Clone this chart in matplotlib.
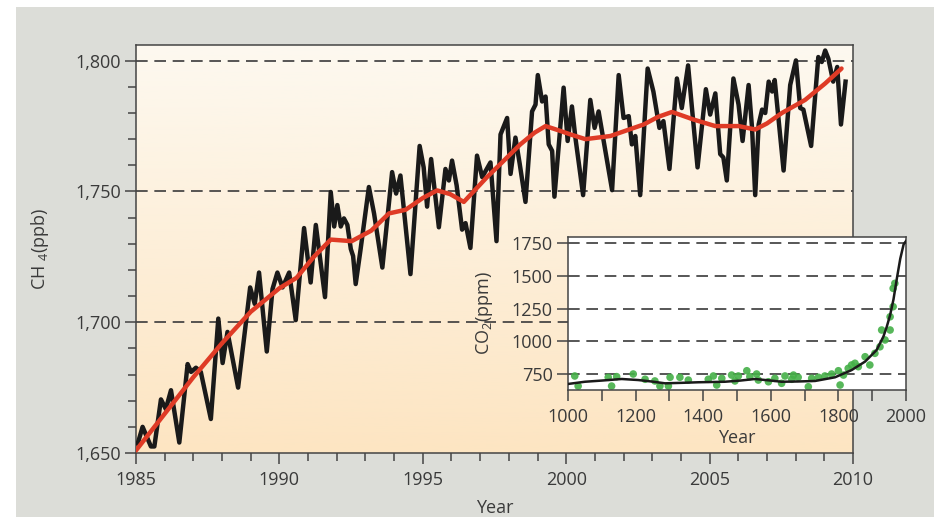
import matplotlib
matplotlib.use("Agg")
import matplotlib.pyplot as plt
from matplotlib.colors import LinearSegmentedColormap
from matplotlib.patches import Rectangle
from matplotlib.ticker import MultipleLocator, FuncFormatter
import numpy as np

plt.rcParams['font.family'] = ['Open Sans', 'DejaVu Sans']
plt.rcParams['mathtext.fontset'] = 'custom'
plt.rcParams['mathtext.rm'] = 'Open Sans'
plt.rcParams['mathtext.default'] = 'regular'

# --- Данные: метан (ppb), помесячный ряд ---
ch4_years = [
    1985.06, 1985.23, 1985.52, 1985.64, 1985.87, 1986.04, 1986.22, 1986.51, 1986.80, 1986.92,
    1987.09, 1987.26, 1987.61, 1987.87, 1988.02, 1988.19, 1988.56, 1988.98, 1989.14, 1989.29,
    1989.56, 1989.76, 1989.93, 1990.11, 1990.34, 1990.57, 1990.86, 1991.09, 1991.27, 1991.59,
    1991.79, 1991.91, 1992.02, 1992.14, 1992.25, 1992.37, 1992.49, 1992.57, 1992.66, 1992.83,
    1993.12, 1993.30, 1993.59, 1993.93, 1994.07, 1994.22, 1994.57, 1994.89, 1995.03, 1995.15,
    1995.29, 1995.56, 1995.79, 1995.91, 1996.02, 1996.18, 1996.37, 1996.49, 1996.66, 1996.89,
    1997.07, 1997.36, 1997.57, 1997.71, 1997.94, 1998.06, 1998.23, 1998.38, 1998.58, 1998.81,
    1998.93, 1999.01, 1999.16, 1999.28, 1999.39, 1999.51, 1999.59, 1999.91, 2000.05, 2000.20,
    2000.32, 2000.59, 2000.84, 2000.99, 2001.13, 2001.60, 2001.83, 2002.00, 2002.18, 2002.29,
    2002.41, 2002.58, 2002.84, 2003.04, 2003.25, 2003.39, 2003.60, 2003.86, 2004.03, 2004.25,
    2004.38, 2004.58, 2004.87, 2005.02, 2005.20, 2005.37, 2005.48, 2005.60, 2005.83, 2006.01,
    2006.15, 2006.36, 2006.48, 2006.59, 2006.71, 2006.83, 2006.94, 2007.06, 2007.18, 2007.27,
    2007.58, 2007.81, 2008.01, 2008.16, 2008.27, 2008.54, 2008.79, 2008.91, 2009.03, 2009.14,
    2009.31, 2009.45, 2009.58, 2009.74,
]
ch4_values = [
    1653.6, 1660.0, 1652.5, 1652.5, 1670.5, 1666.8, 1674.0, 1654.0, 1684.0, 1681.0,
    1682.6, 1681.0, 1663.0, 1701.4, 1684.4, 1696.3, 1675.0, 1713.3, 1707.0, 1719.0,
    1688.8, 1712.7, 1719.0, 1713.3, 1719.0, 1700.8, 1736.0, 1715.2, 1737.2, 1709.6,
    1749.8, 1736.6, 1744.8, 1736.6, 1739.7, 1737.2, 1728.0, 1725.3, 1714.6, 1727.8,
    1751.7, 1741.6, 1720.9, 1757.4, 1749.2, 1756.1, 1718.4, 1767.4, 1759.2, 1744.2,
    1762.4, 1736.3, 1758.6, 1754.2, 1761.8, 1752.3, 1735.4, 1737.9, 1728.4, 1763.7,
    1755.5, 1761.1, 1731.0, 1771.8, 1778.1, 1756.7, 1770.6, 1760.5, 1746.0, 1780.6,
    1783.2, 1794.5, 1784.4, 1786.3, 1768.0, 1765.5, 1748.0, 1789.7, 1769.3, 1782.5,
    1770.6, 1748.6, 1785.0, 1774.3, 1780.6, 1750.5, 1794.5, 1778.1, 1778.8, 1768.0,
    1771.2, 1748.6, 1797.0, 1788.2, 1774.3, 1776.9, 1758.6, 1793.2, 1781.9, 1798.2,
    1782.5, 1759.2, 1789.1, 1779.4, 1787.5, 1764.3, 1763.0, 1754.2, 1793.2, 1783.2,
    1769.3, 1790.7, 1774.3, 1748.6, 1775.6, 1781.3, 1780.0, 1792.0, 1788.2, 1792.6,
    1758.0, 1790.7, 1800.1, 1781.9, 1781.3, 1767.4, 1801.4, 1799.5, 1803.9, 1800.8,
    1792.0, 1797.6, 1775.6, 1792.0,
]

# сглаженный тренд (красная линия)
trend_years = [1985.0, 1986.0, 1987.0, 1988.0, 1989.0, 1990.0, 1990.6, 1991.2, 1991.79,
               1992.52, 1993.2, 1993.82, 1994.40, 1995.0, 1995.50, 1995.95, 1996.43,
               1997.24, 1997.8, 1998.40, 1998.9, 1999.28, 1999.7, 2000.15, 2000.67,
               2001.54, 2002.70, 2003.20, 2003.69, 2004.44, 2005.20, 2006.01, 2006.59,
               2007.0, 2007.52, 2008.33, 2009.03, 2009.60]
trend_values = [1651.0, 1665.0, 1679.0, 1692.0, 1704.0, 1713.0, 1717.0, 1725.0, 1731.6,
                1731.0, 1735.0, 1741.6, 1743.0, 1747.5, 1750.4, 1749.0, 1746.0,
                1755.5, 1761.5, 1768.0, 1772.5, 1775.0, 1773.5, 1771.8, 1770.0,
                1771.2, 1775.6, 1778.5, 1780.4, 1777.5, 1775.0, 1775.0, 1773.7,
                1776.0, 1780.0, 1785.0, 1791.3, 1797.0]

# --- Врезка: долгосрочный ряд ---
inset_curve_years = [1000, 1050, 1100, 1159, 1208, 1250, 1287, 1340, 1385, 1464, 1510,
                     1553, 1600, 1632, 1680, 1731, 1790, 1839, 1879, 1913, 1933, 1943,
                     1953, 1963, 1973, 1983, 1993, 2000]
inset_curve_values = [674, 691, 700, 712, 704, 692, 679, 683, 687, 691, 700,
                      712, 700, 691, 693, 697, 725, 780, 845, 933, 1035, 1110,
                      1200, 1320, 1480, 1630, 1740, 1765]

inset_dot_years = [1020, 1030, 1119, 1129, 1144, 1193, 1228, 1257, 1272, 1302, 1297, 1331,
                   1356, 1415, 1440, 1430, 1455, 1484, 1494, 1504, 1529, 1538, 1558, 1563,
                   1593, 1612, 1632, 1642, 1667, 1662, 1681, 1711, 1721, 1741, 1760, 1780,
                   1800, 1805, 1815, 1829, 1839, 1849, 1859, 1879, 1893, 1908, 1923, 1928,
                   1938, 1953, 1953, 1962, 1962, 1967]
inset_dot_values = [735, 658, 725, 658, 730, 750, 710, 697, 658, 725, 658, 725,
                    704, 710, 666, 735, 717, 742, 697, 735, 775, 730, 750, 704,
                    691, 717, 679, 735, 742, 710, 725, 653, 717, 725, 735, 750,
                    775, 666, 742, 793, 819, 832, 806, 882, 819, 908, 958, 1086,
                    1010, 1086, 1187, 1264, 1404, 1442]

W, H = 934, 517
fig = plt.figure(figsize=(W / 100, H / 100), dpi=100, facecolor='white')

# серый фон подложки
fig.patches.append(Rectangle((16 / W, 0), 1 - 16 / W, 1 - 7 / H, transform=fig.transFigure,
                             facecolor='#dcddd8', edgecolor='none', zorder=-10))

text_col = '#3a3a3a'
spine_col = '#444444'
dash = (0, (7, 4))

# --- Основной график ---
ax = fig.add_axes([136 / W, 1 - 453 / H, (853 - 136) / W, (453 - 45) / H])
x0, x1, y0, y1 = 1985, 2010, 1650, 1806
grad = np.linspace(0, 1, 256).reshape(-1, 1)
cmap = LinearSegmentedColormap.from_list('bg', ['#fdf9f0', '#fde5c2'])
# верх светлый, низ персиковый
ax.imshow(grad, extent=[x0, x1, y0, y1], aspect='auto', cmap=cmap, zorder=0,
          origin='upper', interpolation='bicubic')
ax.set_xlim(x0, x1)
ax.set_ylim(y0, y1)

for lvl in (1700, 1750, 1800):
    ax.axhline(lvl, color='#3a3a3a', lw=1.2, linestyle=dash, zorder=1)

ax.plot(ch4_years, ch4_values, color='#1a1a1a', lw=3.2, solid_joinstyle='round', zorder=3)
ax.plot(trend_years, trend_values, color='#df3b26', lw=3.2, solid_capstyle='round',
        solid_joinstyle='round', zorder=4)

ax.xaxis.set_major_locator(MultipleLocator(5))
ax.xaxis.set_minor_locator(MultipleLocator(1))
ax.yaxis.set_major_locator(MultipleLocator(50))
ax.yaxis.set_minor_locator(MultipleLocator(10))
ax.yaxis.set_major_formatter(FuncFormatter(lambda v, p: f"{v:,.0f}"))
ax.tick_params(which='major', direction='out', length=8, width=1.1, color=spine_col,
               labelsize=13, labelcolor=text_col, pad=3)
ax.tick_params(axis='x', which='major', pad=5)
ax.tick_params(which='minor', direction='out', length=5.5, width=1.1, color=spine_col)
for s in ax.spines.values():
    s.set_color(spine_col)
    s.set_linewidth(1.1)

ax.set_xlabel('Year', fontsize=13, color=text_col)
ax.xaxis.set_label_coords(0.5, -0.112)
ax.set_ylabel(r'CH $_4$(ppb)', fontsize=13, color=text_col)
ax.yaxis.set_label_coords(-0.118, 0.5)

# --- Врезка ---
ins = fig.add_axes([568 / W, 1 - 390 / H, (906 - 568) / W, (390 - 237) / H], zorder=5)
ins.set_facecolor('white')
ins.set_xlim(1000, 2000)
ins.set_ylim(628, 1796)
for lvl in (750, 1000, 1250, 1500, 1750):
    ins.axhline(lvl, color='#3a3a3a', lw=1.2, linestyle=dash, zorder=1)
ins.scatter(inset_dot_years, inset_dot_values, s=30, color='#45b048', edgecolors='none',
            alpha=0.9, zorder=2)
ins.plot(inset_curve_years, inset_curve_values, color='#1a1a1a', lw=1.8, zorder=3)

ins.xaxis.set_major_locator(MultipleLocator(200))
ins.xaxis.set_minor_locator(MultipleLocator(100))
ins.yaxis.set_major_locator(MultipleLocator(250))
ins.tick_params(which='major', direction='out', length=8, width=1.1, color=spine_col,
                labelsize=13, labelcolor=text_col, pad=3)
ins.tick_params(axis='x', which='major', pad=5)
ins.tick_params(which='minor', direction='out', length=8, width=1.1, color=spine_col)
for s in ins.spines.values():
    s.set_color(spine_col)
    s.set_linewidth(1.1)
ins.set_xlabel('Year', fontsize=13, color=text_col, labelpad=2)
ins.set_ylabel(r'CO$_2$(ppm)', fontsize=13, color=text_col, labelpad=12)

fig.savefig('out.png', dpi=100)
